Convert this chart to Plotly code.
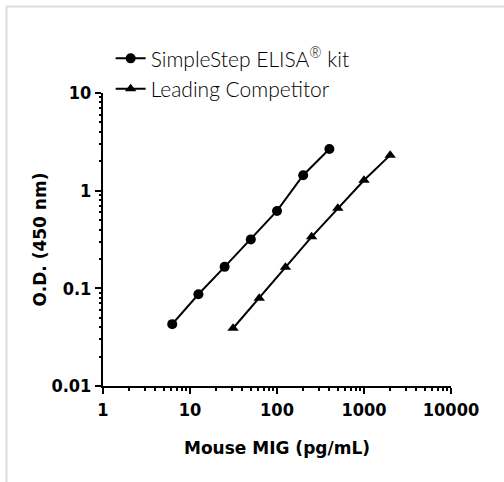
import plotly.graph_objects as go

simple_x = [6.25, 12.5, 25, 50, 100, 200, 400]
simple_y = [0.043, 0.087, 0.166, 0.317, 0.62, 1.44, 2.67]
comp_x = [31.25, 62.5, 125, 250, 500, 1000, 2000]
comp_y = [0.039, 0.079, 0.164, 0.337, 0.66, 1.28, 2.31]

x_range_log = [0, 4]    # 1 .. 10000
y_range_log = [-2, 1]   # 0.01 .. 10
x_minor = [m * 10 ** e for e in range(0, 4) for m in range(2, 10)]
y_minor = [m * 10.0 ** e for e in range(-2, 1) for m in range(2, 10)]

series_names = ["SimpleStep ELISA<sup>®</sup> kit", "Leading Competitor"]

W, H = 504, 482
L, R, T, B = 103, 53, 93, 96
PW, PH = W - L - R, H - T - B

fig = go.Figure()
fig.add_trace(go.Scatter(x=simple_x, y=simple_y, mode="lines+markers", name=series_names[0],
                         line=dict(color="black", width=2),
                         marker=dict(symbol="circle", size=10, color="black")))
fig.add_trace(go.Scatter(x=comp_x, y=comp_y, mode="lines+markers", name=series_names[1],
                         line=dict(color="black", width=2),
                         marker=dict(symbol="triangle-up", size=10, color="black")))
# invisible helper trace so the minor-tick overlay axes are drawn
fig.add_trace(go.Scatter(x=[1, 10000], y=[0.01, 10], xaxis="x2", yaxis="y2", mode="markers",
                         marker=dict(opacity=0), showlegend=False, hoverinfo="skip"))

tick_font = dict(family="Liberation Sans Narrow, Arial Narrow, DejaVu Sans Condensed",
                 size=18, color="black", weight="bold")
axis_common = dict(type="log", tickmode="linear", tick0=0, dtick=1, exponentformat="none",
                   showline=True, linecolor="black", linewidth=2, ticks="outside",
                   ticklen=6, tickwidth=2, tickcolor="black", showgrid=False, zeroline=False,
                   tickfont=tick_font)
overlay_common = dict(type="log", showline=False, ticks="outside", ticklen=3.5, tickwidth=1.5,
                      tickcolor="black", showgrid=False, zeroline=False,
                      showticklabels=False, tickmode="array")

title_font = dict(family="DejaVu Sans", size=17, color="black", weight="bold")

fig.update_layout(
    width=W, height=H,
    margin=dict(l=L, r=R, t=T, b=B, autoexpand=False),
    paper_bgcolor="white", plot_bgcolor="white",
    showlegend=True,
    xaxis=dict(range=x_range_log, tickformat="d",
               title=dict(text="Mouse MIG (pg/mL)", font=title_font, standoff=24),
               **axis_common),
    yaxis=dict(range=y_range_log,
               title=dict(text="O.D. (450 nm)", font=title_font, standoff=0),
               **axis_common),
    xaxis2=dict(range=x_range_log, tickvals=x_minor, overlaying="x", anchor="y2",
                side="bottom", **overlay_common),
    yaxis2=dict(range=y_range_log, tickvals=y_minor, overlaying="y", anchor="x2",
                side="left", **overlay_common),
    legend=dict(x=0.022, y=1.187, xanchor="left", yanchor="top",
                font=dict(family="Lato", size=21, color="black", weight=300),
                bgcolor="rgba(0,0,0,0)", tracegroupgap=0, itemwidth=30),
    shapes=[
        dict(type="line", xref="paper", yref="paper",
             x0=(6 - L) / PW, x1=(W + 10 - L) / PW,
             y0=(H - B - 6.5) / PH, y1=(H - B - 6.5) / PH,
             line=dict(color="#dddddd", width=2)),
        dict(type="line", xref="paper", yref="paper",
             x0=(6.5 - L) / PW, x1=(6.5 - L) / PW,
             y0=(H - B - 6) / PH, y1=-(B + 10) / PH,
             line=dict(color="#dddddd", width=2)),
    ],
)

fig.write_html("out.html", config={"displayModeBar": False},
               post_script="document.body.style.margin='0';")
